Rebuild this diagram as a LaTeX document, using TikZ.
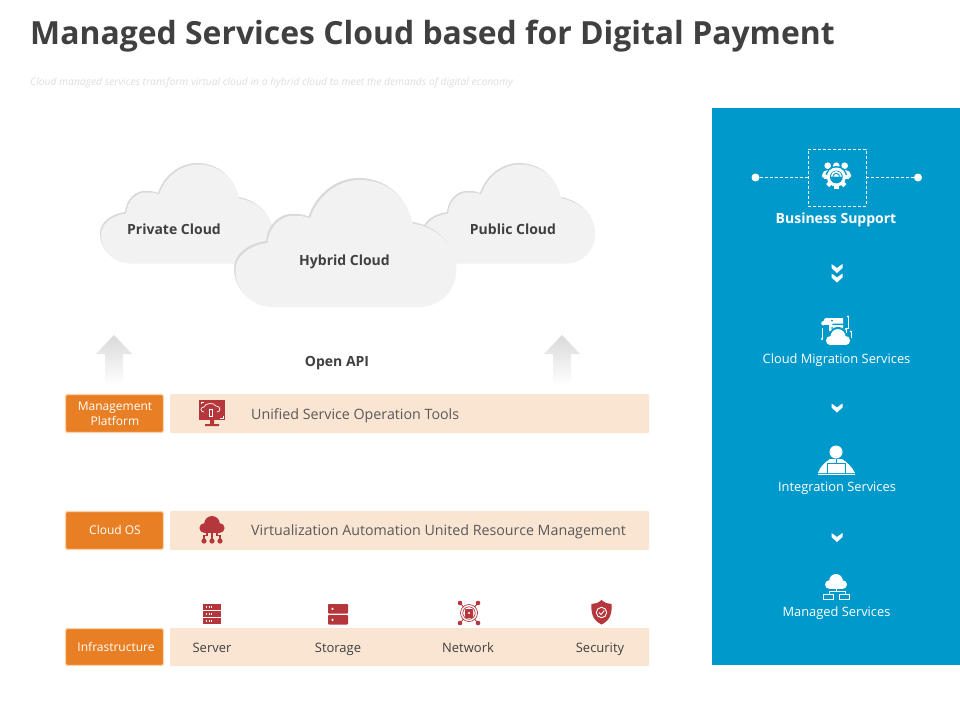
\documentclass[tikz,border=0pt]{standalone}
\usepackage{fontspec}
\setmainfont{Open Sans}
\definecolor{panelblue}{HTML}{0099CC}
\definecolor{rowpeach}{HTML}{FAE5D3}
\definecolor{tagorange}{HTML}{E97F24}
\definecolor{tagedge}{HTML}{F9D3AC}
\definecolor{iconred}{HTML}{B5373C}
\definecolor{inkdark}{HTML}{404040}
\definecolor{inkmid}{HTML}{595959}
\definecolor{cloudface}{HTML}{F2F2F2}
\definecolor{cloudedge}{HTML}{D9D9D9}
\newcommand{\fs}[1]{\fontsize{#1}{#1}\selectfont}
\newcommand{\cloudoutline}{(30,99) .. controls (12,99) and (0,86) .. (0,70) .. controls (0,60) and (10,51) .. (25,49) .. controls (26,36) and (36,28) .. (44,28) .. controls (50,28) and (54,28) .. (58,30) .. controls (64,12) and (80,0) .. (97,0) .. controls (118,0) and (134,14) .. (138,34) .. controls (158,37) and (172,52) .. (172,69) .. controls (172,86) and (160,99) .. (142,99) -- cycle}
\newcommand{\bigcloud}[3]{%
  \begin{scope}[shift={(#1,#2)},scale=#3]
    \fill[cloudedge] \cloudoutline;
    \begin{scope}
      \clip (-5,1.2) rectangle (180,110);
      \fill[cloudface,shift={(1.1,1.5)}] \cloudoutline;
    \end{scope}
  \end{scope}}
\newcommand{\upshade}[1]{%
  \shade[top color=cloudedge,bottom color=white,shift={(#1,0)}]
    (0,335) -- (18,354) -- (9,354) -- (9,385) -- (-9,385) -- (-9,354) -- (-18,354) -- cycle;}
\newcommand{\chev}[2]{%
  \fill[white,shift={(#1,#2)}] (-5.5,0) -- (0,4) -- (5.5,0) -- (5.5,4) -- (0,9) -- (-5.5,4) -- cycle;}
\newcommand{\smallcloud}[4]{% x y scale colour
  \fill[#4,shift={(#1,#2)},scale=#3] (-6.5,0.5) circle (4) (0,-3) circle (6.5) (6.5,0.5) circle (4);
  \fill[#4,shift={(#1,#2)},scale=#3] (-6.5,-1) rectangle (6.5,4.5);}
\tikzset{
  x=1pt,y=-1pt,
  tagbox/.style={fill=tagorange,draw=tagedge,line width=1.2pt,rounded corners=1.5pt},
  rowbar/.style={fill=rowpeach,rounded corners=1pt},
  cloudtext/.style={font=\bfseries\fs{14},text=inkdark,inner sep=0pt,anchor=base},
  tagtext/.style={font=\fs{12},text=white,inner sep=0pt,align=center},
  rowtext/.style={font=\fs{14.25},text=inkmid,inner sep=0pt,anchor=base west},
  infratext/.style={font=\fs{13},text=inkdark,inner sep=0pt,anchor=base},
  paneltext/.style={font=\fs{12.85},text=white,inner sep=0pt,anchor=base},
  paneldot/.style={circle,fill=white,minimum size=8pt,inner sep=0pt},
  dashline/.style={draw=white,line width=.6pt,densely dashed}
}
\begin{document}
\begin{tikzpicture}
\useasboundingbox (0,0) rectangle (960,720);
\fill[white] (0,0) rectangle (960,720);
% heading
\node[anchor=base west,inner sep=0pt,font=\bfseries\fs{31.9},text=inkdark] (title) at (30,44.5) {Managed Services Cloud based for Digital Payment};
\node[anchor=base west,inner sep=0pt,font=\itshape\fs{10.3},text=black!13] (subtitle) at (30,85.5) {Cloud managed services transform virtual cloud in a hybrid cloud to meet the demands of digital economy};
% clouds
\bigcloud{100}{163}{1}
\bigcloud{422}{163}{1}
\bigcloud{234}{178}{1.285}
\node[cloudtext] (private) at (174,234) {Private Cloud};
\node[cloudtext] (public) at (513,234) {Public Cloud};
\node[cloudtext] (hybrid) at (344.5,265) {Hybrid Cloud};
\node[cloudtext] (api) at (337,366) {Open API};
\upshade{114}
\upshade{562}
% rows
\fill[rowbar] (170,394) rectangle (649,433);
\fill[rowbar] (170,511) rectangle (649,550);
\fill[rowbar] (170,628) rectangle (649,666);
\path[tagbox] (65.5,394.5) rectangle (163.5,432.5);
\path[tagbox] (65.5,511.5) rectangle (163.5,549.5);
\path[tagbox] (65.5,628.5) rectangle (163.5,665.5);
\node[tagtext] (mgmt) at (115,413.5) {Management\\[2pt]Platform};
\node[tagtext] (cos) at (115,530) {Cloud OS};
\node[tagtext] (infra) at (116,647) {Infrastructure};
\node[rowtext] (tools) at (251,419) {Unified Service Operation Tools};
\node[rowtext] (virt) at (251,535.5) {Virtualization Automation United Resource Management};
\node[infratext] (server) at (212,652) {Server};
\node[infratext] (storage) at (338,652) {Storage};
\node[infratext] (network) at (468,652) {Network};
\node[infratext] (security) at (600,652) {Security};
% monitor icon
\fill[iconred] (199,400) rectangle (225,420);
\fill[iconred] (210,420) rectangle (214,424) (205,424) rectangle (219,426);
\draw[white,line width=.7pt] (204,412) .. controls (200,412) and (200,407) .. (204,407) .. controls (205,403) and (214,402) .. (216,406) .. controls (221,406) and (221,412) .. (217,412);
\draw[white,line width=.7pt] (212,409) rectangle (209,416) (201,404) -- (201,402) -- (204,402) (223,416) -- (223,418) -- (220,418);
% cloud circuit icon
\smallcloud{212}{527.4}{1.2}{iconred}
\draw[iconred,line width=1.2pt] (212,532) -- (212,540) (207,532) -- (207,535.5) -- (204,535.5) -- (204,540) (217,532) -- (217,535.5) -- (220,535.5) -- (220,540);
\fill[iconred] (204,541) circle (2.6) (212,541) circle (2.6) (220,541) circle (2.6);
% server icon
\foreach \yy in {604,611,618}{
  \fill[iconred] (203,\yy) rectangle (221,\yy+6);
  \foreach \xx in {206,208.5,211}{\fill[white] (\xx,\yy+2.4) rectangle (\xx+1.4,\yy+3.6);}
}
% storage icon
\foreach \yy in {604,615}{
  \fill[iconred,rounded corners=.8pt] (328,\yy) rectangle (348,\yy+9.5);
  \fill[white] (332.5,\yy+4.8) circle (1.2);
}
% network icon
\draw[iconred,line width=.8pt] (460,603) -- (478,623) (478,603) -- (460,623);
\fill[iconred] (460,603) circle (2.3) (478,603) circle (2.3) (460,623) circle (2.3) (478,623) circle (2.3);
\fill[white] (469,613) circle (8);
\draw[iconred,line width=.7pt] (469,613) circle (8.5) (469,613) circle (6.2);
\fill[iconred,rounded corners=.8pt] (465,609) rectangle (473,618);
\fill[white] (469,613) circle (1.1);
% shield icon
\fill[iconred] (601.5,600) .. controls (605,603) and (608,604) .. (611.5,604) .. controls (612,612) and (611,620) .. (601.5,624.5) .. controls (592,620) and (591,612) .. (591.5,604) .. controls (595,604) and (598,603) .. (601.5,600) -- cycle;
\draw[white,line width=.9pt] (601.5,612.5) circle (5.2);
\draw[white,line width=.9pt] (599,612.5) -- (601,614.5) -- (604.3,610.5);
% panel
\fill[panelblue] (712,108) rectangle (960,665);
\node[draw=white,densely dashed,line width=.6pt,minimum width=58pt,minimum height=57pt,inner sep=0pt] (supportbox) at (837,177.5) {};
\node[paneldot] (dotleft) at (755.5,177.5) {};
\node[paneldot] (dotright) at (918,177.5) {};
\draw[dashline] (dotleft) -- (supportbox);
\draw[dashline] (dotright) -- (supportbox);
% group gear icon
\fill[white] (827.7,165.7) circle (3.3) (836.3,165.7) circle (3.3) (844.7,165.7) circle (3.3);
\fill[white,rounded corners=2pt] (822,178) -- (822,173) -- (826,170) -- (847,170) -- (851,173) -- (851,178) -- cycle;
\fill[panelblue] (836.3,177) circle (11);
\fill[white] (836.3,177) circle (9.5);
\foreach \aa in {90,135,180,225,270}{
  \fill[white,shift={(836.3,177)},rotate=\aa] (-2.2,-12.2) rectangle (2.2,-6);
}
\fill[panelblue] (836.3,177) circle (6.4);
\fill[white] (830.8,176.5) arc[start angle=180,end angle=360,radius=5.5];
\fill[panelblue] (832.6,176.5) arc[start angle=180,end angle=360,radius=3.7];
\fill[white] (833.8,176.5) arc[start angle=180,end angle=360,radius=2.5];
\node[paneltext,font=\bfseries\fs{14}] (support) at (836,223) {Business Support};
% chevrons
\chev{837}{264}
\chev{837}{273.5}
\chev{837}{403.5}
\chev{837}{533}
% migration icon
\smallcloud{827}{323}{.55}{white}
\fill[white] (829,318) rectangle (843,323.5) (829,325) rectangle (843,331);
\fill[panelblue] (832,320.7) circle (1) (832,328) circle (1);
\smallcloud{838}{339.5}{1.33}{panelblue}
\smallcloud{838}{340}{1.15}{white}
\draw[white,line width=.6pt] (845,328) -- (848,328) -- (848,317) (822,328) -- (822,339) (846,329) -- (846,333) (851,332) -- (851,338);
\fill[white] (848,316.5) circle (1.2) (822,339) circle (1.1) (846,329) circle (1.1) (851,331.5) circle (1.1);
% person icon
\fill[white] (836,452) circle (6.5);
\fill[white] (818,473) .. controls (820,467) and (824,463) .. (830,459) -- (842,459) .. controls (848,463) and (852,467) .. (855,473) -- cycle;
\draw[panelblue,line width=.8pt] (827.5,473) -- (827.5,463.5) -- (845,463.5) -- (845,473);
\draw[panelblue,line width=.8pt] (836,459) -- (836,463);
\draw[white,line width=.7pt] (818,474.5) -- (855,474.5);
% managed cloud icon
\smallcloud{836}{584}{1.05}{white}
\draw[white,line width=.7pt] (836,588) -- (836,591) (829,594) -- (829,591) -- (845,591) -- (845,594);
\draw[white,line width=1pt] (823.5,594.5) rectangle (833.5,599.5) (839.5,594.5) rectangle (849.5,599.5);
% panel labels
\node[paneltext] (migration) at (836.5,363) {Cloud Migration Services};
\node[paneltext] (integration) at (837,491) {Integration Services};
\node[paneltext] (managed) at (836.5,616) {Managed Services};
\end{tikzpicture}
\end{document}
